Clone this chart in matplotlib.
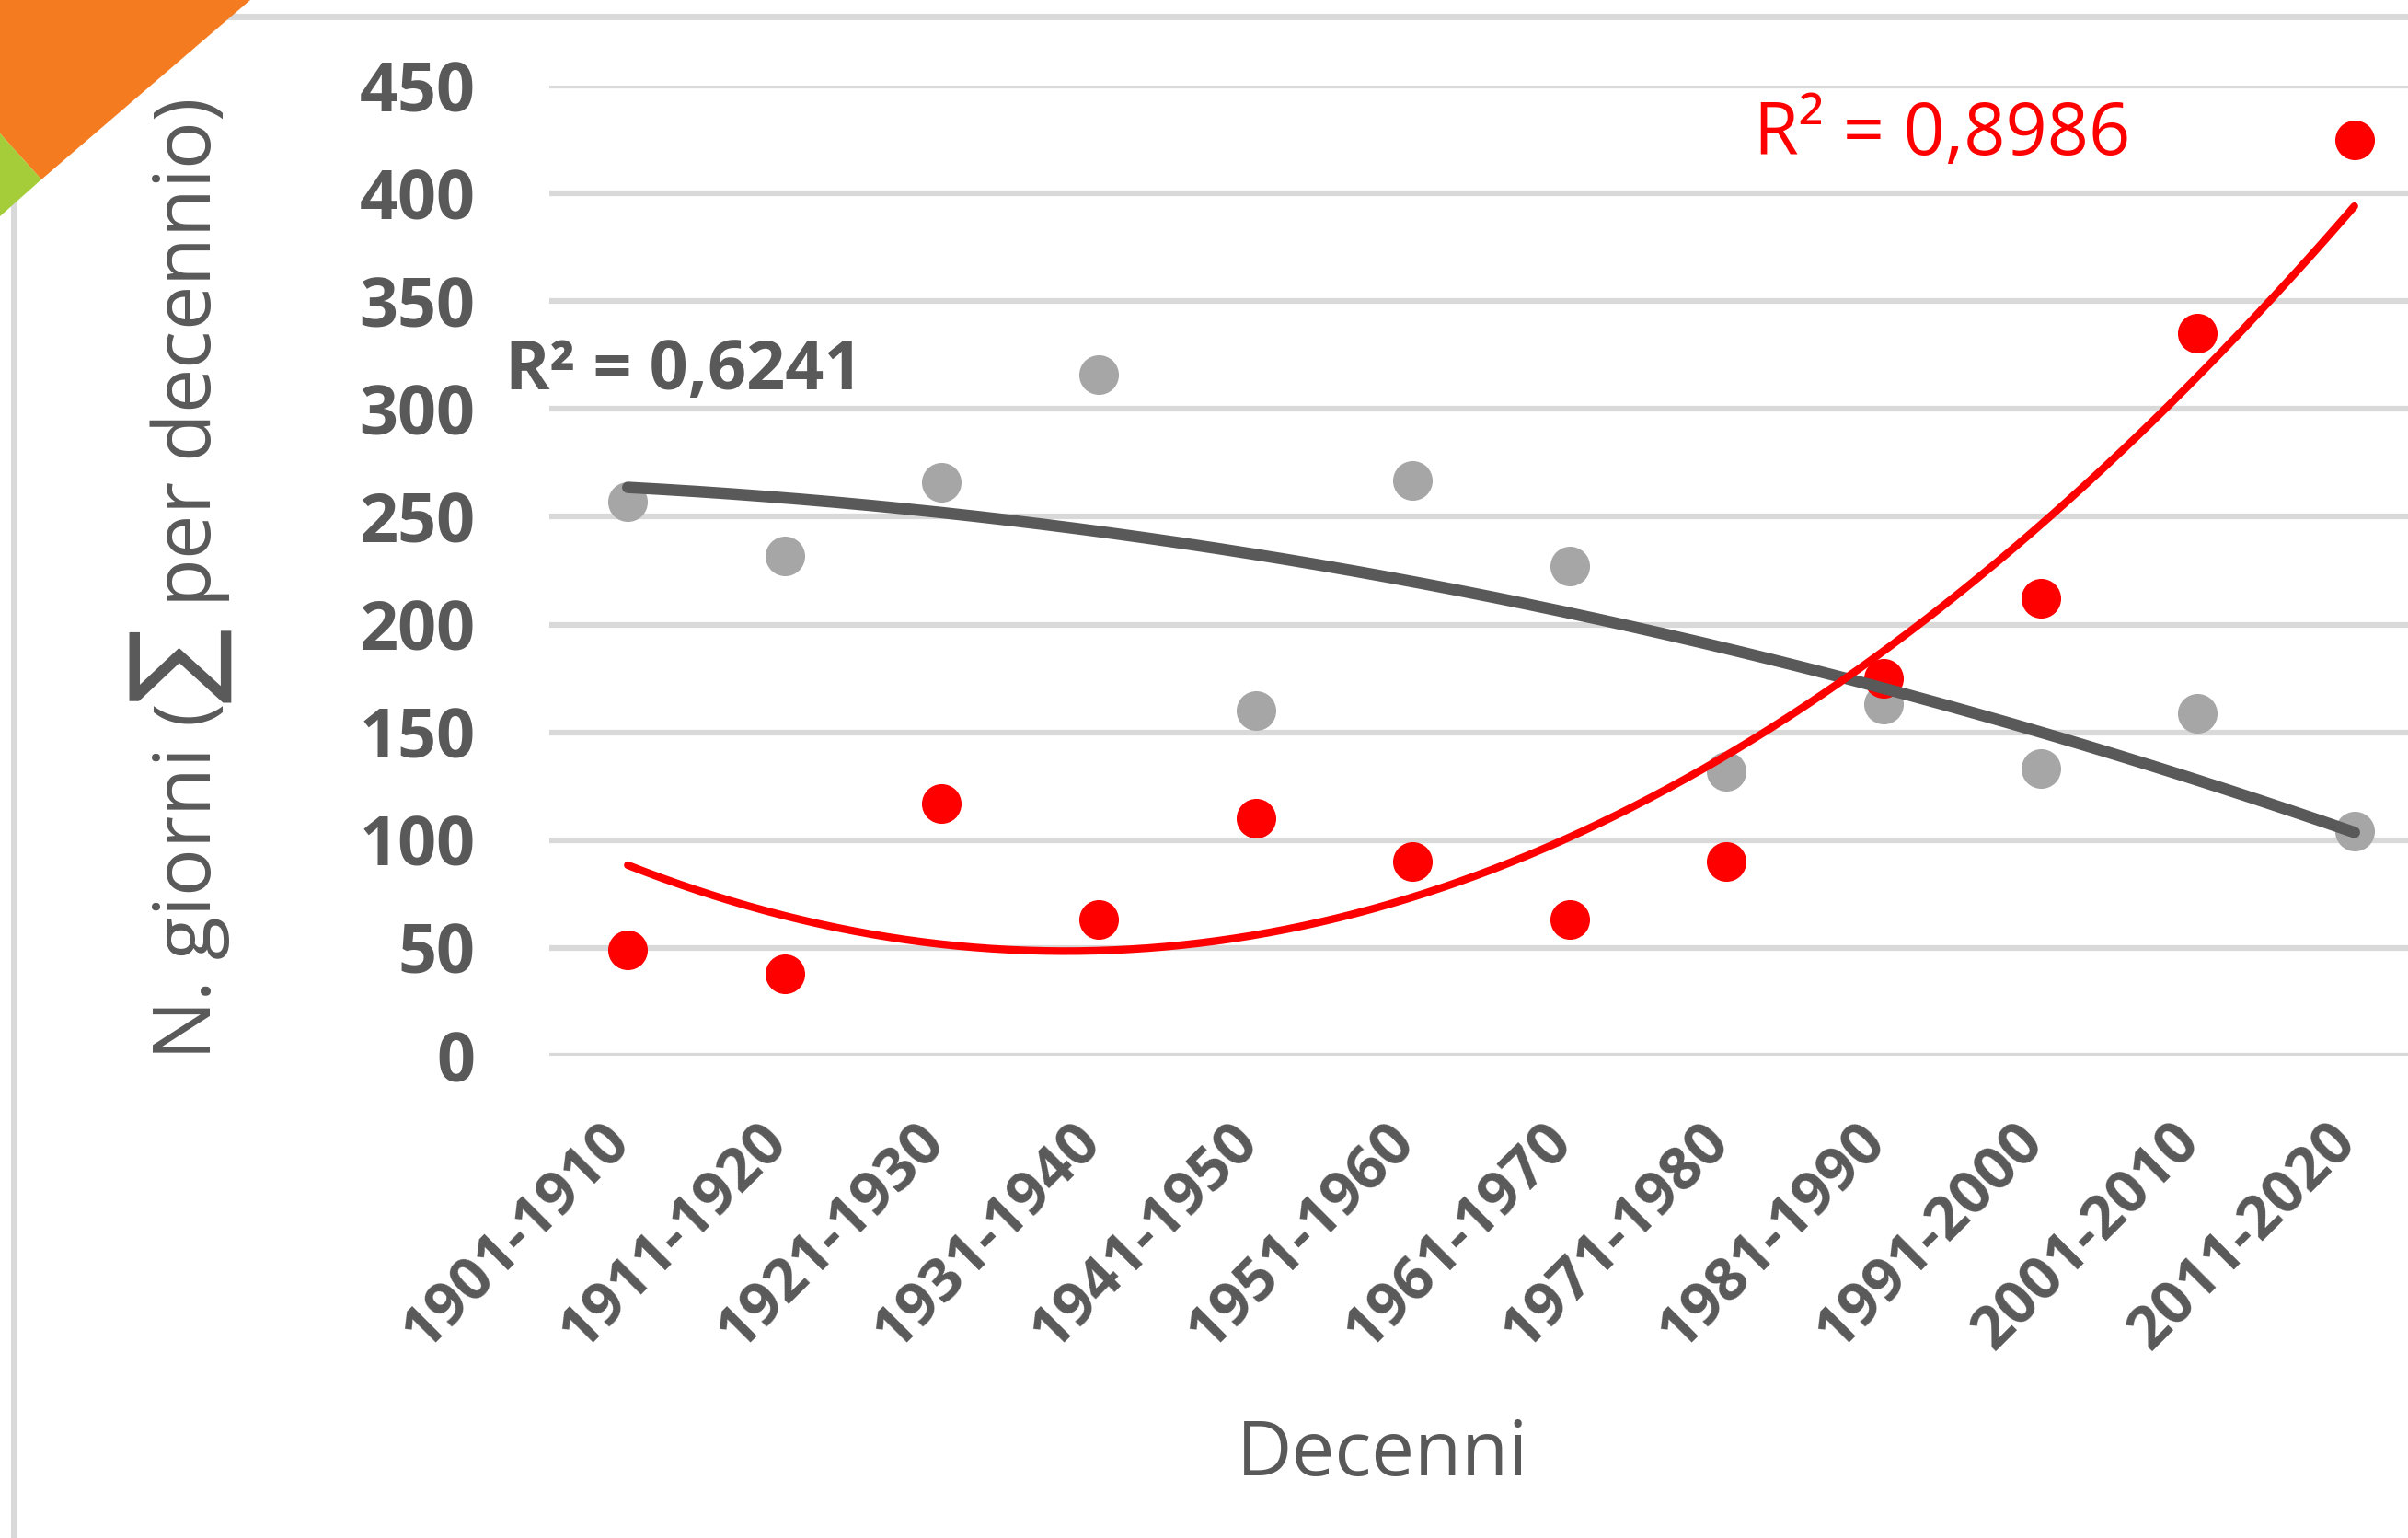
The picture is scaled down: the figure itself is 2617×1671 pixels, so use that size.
import matplotlib.pyplot as plt
from matplotlib.patches import Polygon
from matplotlib.transforms import ScaledTranslation
import numpy as np

# ---- data ----
decades = ["1901-1910", "1911-1920", "1921-1930", "1931-1940", "1941-1950",
           "1951-1960", "1961-1970", "1971-1980", "1981-1990", "1991-2000",
           "2001-2010", "2011-2020"]
gray_days = [257, 232, 266, 316, 160, 267, 227, 132, 163, 133, 159, 104]
red_days = [49, 38, 117, 63, 110, 90, 63, 90, 175, 212, 335, 425]
r2_gray = "R² = 0,6241"
r2_red = "R² = 0,8986"

TXT = "#595959"
GRID = "#D9D9D9"
W, H = 2617, 1671

plt.rcParams['font.family'] = ['Open Sans', 'DejaVu Sans']
plt.rcParams['mathtext.fontset'] = 'dejavusans'

fig = plt.figure(figsize=(W / 100, H / 100), dpi=100)

# axes placed in pixel terms (plot area is cut off on the right)
left, right, top, bottom = 597, 2644, 93, 1147
ax = fig.add_axes([left / W, 1 - bottom / H, (right - left) / W, (bottom - top) / H])

x = np.arange(len(decades))
ax.set_xlim(-0.5, len(decades) - 0.5)
ax.set_ylim(0, 450)
ax.set_yticks(np.arange(0, 451, 50))
ax.yaxis.grid(True, color=GRID, linewidth=4.5)
ax.set_axisbelow(True)
for s in ax.spines.values():
    s.set_visible(False)

ax.set_xticks(x)
ax.set_xticklabels(decades, rotation=45, ha="right", va="top",
                   fontsize=47, fontweight="bold", color=TXT)
ax.tick_params(axis="x", length=0, pad=44)
shift = ScaledTranslation(16 / 100, 0, fig.dpi_scale_trans)
for lbl in ax.get_xticklabels():
    lbl.set_transform(lbl.get_transform() + shift)
ax.tick_params(axis="y", length=0, pad=58, labelsize=53, labelcolor=TXT)
for lbl in ax.get_yticklabels():
    lbl.set_fontweight("bold")

# scatter points
ax.plot(x, gray_days, "o", color="#A6A6A6", markersize=31, markeredgewidth=0,
        clip_on=False, zorder=3)
ax.plot(x, red_days, "o", color="#FF0000", markersize=31, markeredgewidth=0,
        clip_on=False, zorder=4)

# polynomial (order 2) trend lines, as in Excel
xf = np.linspace(x[0], x[-1], 300)
pg = np.polyfit(x, gray_days, 2)
pr = np.polyfit(x, red_days, 2)
ax.plot(xf, np.polyval(pg, xf), color=TXT, linewidth=9, zorder=5,
        solid_capstyle="round", clip_on=False)
ax.plot(xf, np.polyval(pr, xf), color="#FF0000", linewidth=6, zorder=6,
        solid_capstyle="round", clip_on=False)

# R² labels
fig.text(549 / W, 1 - 404 / H, r2_gray, fontsize=53, fontweight="bold",
         color=TXT, ha="left", va="center")
fig.text(1906 / W, 1 - 147 / H, r2_red, fontsize=57, fontweight="medium",
         color="#FF0000", ha="left", va="center")

# axis titles
fig.text(197 / W, 1 - 630 / H, r"N. giorni ($\sum$ per decennio)", rotation=90,
         fontsize=62, color=TXT, ha="center", va="center")
fig.text(1502 / W, 1 - 1582 / H, "Decenni", fontsize=60, color=TXT,
         ha="center", va="center")

# chart area border (top and left)
fig.add_artist(plt.Line2D([15 / W, 1], [1 - 18 / H, 1 - 18 / H], color=GRID,
                          linewidth=5, transform=fig.transFigure))
fig.add_artist(plt.Line2D([15 / W, 15 / W], [0, 1 - 18 / H], color=GRID,
                          linewidth=5, transform=fig.transFigure))

# decorative corner
orange = [(0, 0), (272, 0), (45, 195), (0, 145)]
green = [(0, 145), (45, 195), (0, 235)]
for pts, col in ((orange, "#F47B20"), (green, "#A5CD39")):
    fig.add_artist(Polygon([(px / W, 1 - py / H) for px, py in pts], closed=True,
                           facecolor=col, edgecolor="none", transform=fig.transFigure,
                           zorder=10))

fig.savefig("out.png", dpi=100, facecolor="white")
